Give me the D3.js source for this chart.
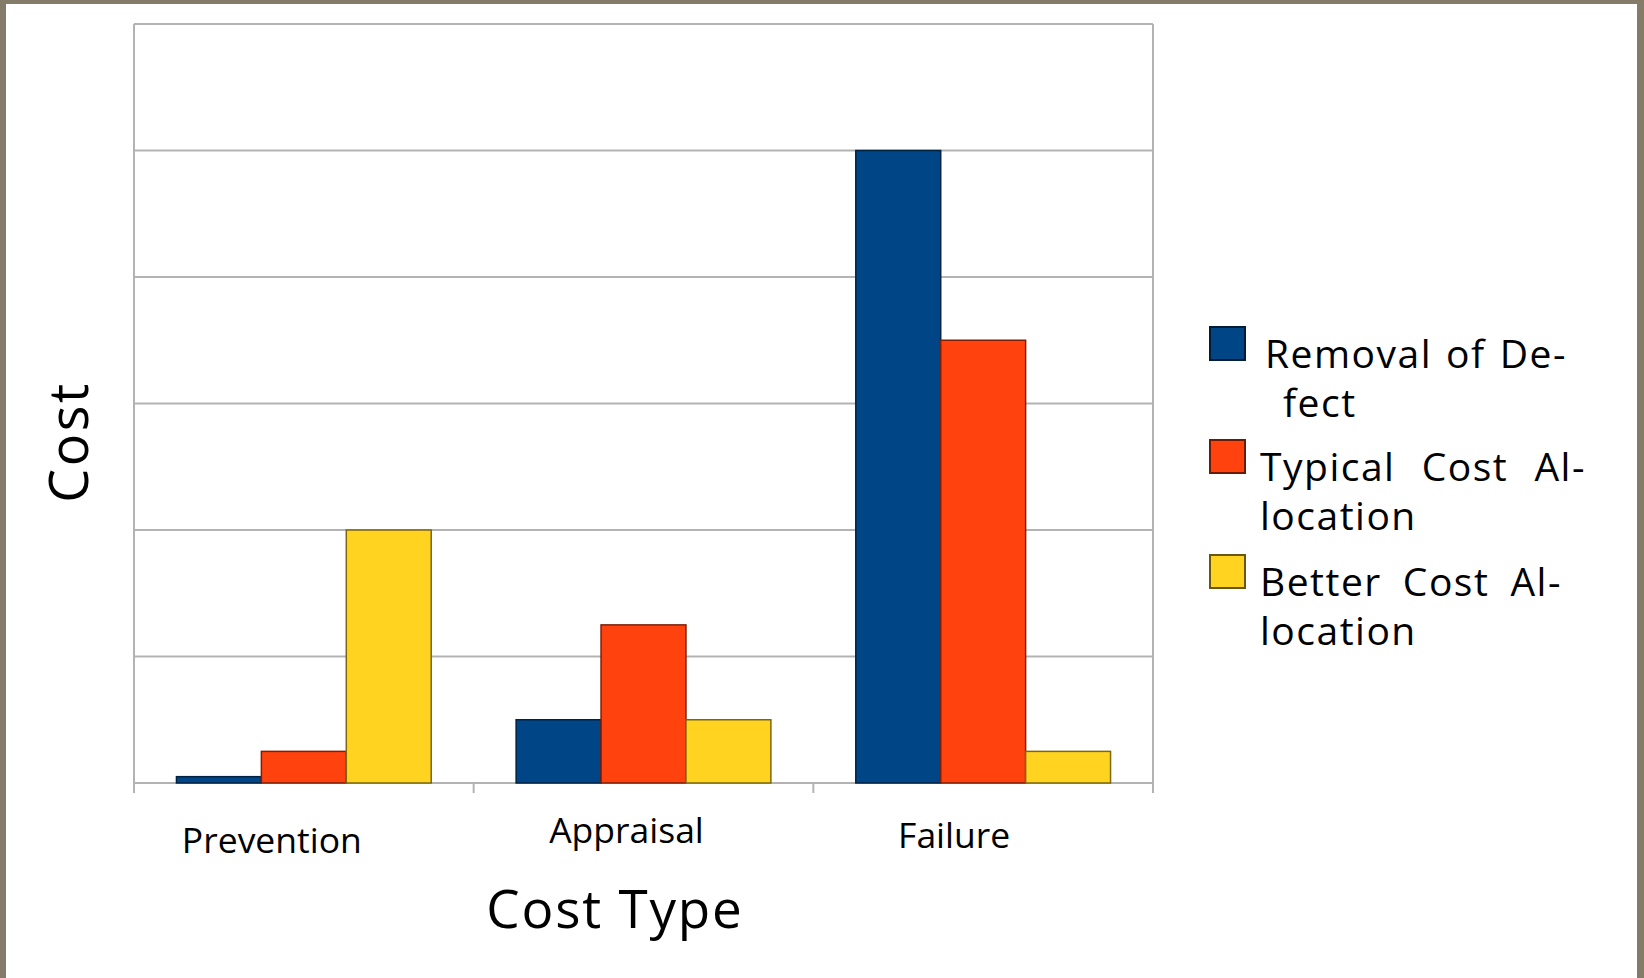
<!DOCTYPE html>
<html>
<head>
<meta charset="utf-8">
<script src="https://cdn.jsdelivr.net/npm/d3@7"></script>
<style>
  html, body { margin: 0; padding: 0; background: #ffffff; }
  svg { display: block; }
  text { font-family: "Open Sans", "Liberation Sans", sans-serif; fill: #000; }
</style>
</head>
<body>
<script>
// Cost of quality: three allocation profiles across the three cost types
const categories = ["Prevention", "Appraisal", "Failure"];
const seriesNames = ["Removal of Defect", "Typical Cost Allocation", "Better Cost Allocation"];
const removalOfDefect = [0.05, 0.5, 5.0];
const typicalAllocation = [0.25, 1.25, 3.5];
const betterAllocation = [2.0, 0.5, 0.25];
const yTicks = [0, 1, 2, 3, 4, 5, 6];
// hyphenated legend lines as set in the chart
const legendLines = [["Removal of De-", "fect"], ["Typical Cost Al-", "location"], ["Better Cost Al-", "location"]];

const seriesValues = [removalOfDefect, typicalAllocation, betterAllocation];
const colors = ["#004586", "#ff420e", "#ffd320"];

const W = 1644, H = 978;
const svg = d3.select("body").append("svg").attr("width", W).attr("height", H);

// page frame
svg.append("rect").attr("x", 0).attr("y", 0).attr("width", W).attr("height", H).attr("fill", "#857b69");
svg.append("rect").attr("x", 6).attr("y", 4).attr("width", W - 6 - 7).attr("height", H - 4).attr("fill", "#ffffff");

const plot = { left: 134, right: 1153, top: 24, bottom: 783 };

const x0 = d3.scaleBand().domain(categories).range([plot.left, plot.right]).padding(0);
const bw = x0.bandwidth();
const x1 = d3.scaleBand().domain(seriesNames).range([bw * 0.125, bw * 0.875]).padding(0);
const y = d3.scaleLinear().domain([0, 6]).range([plot.bottom, plot.top]);

const grid = "#b3b3b3";

// horizontal grid lines
svg.append("g")
  .selectAll("line")
  .data(yTicks.filter(t => t > 0))
  .join("line")
  .attr("x1", plot.left).attr("x2", plot.right)
  .attr("y1", d => y(d)).attr("y2", d => y(d))
  .attr("stroke", grid).attr("stroke-width", 2);

// left and right frame of the plot area
[plot.left, plot.right].forEach(xx => {
  svg.append("line")
    .attr("x1", xx).attr("x2", xx)
    .attr("y1", plot.top).attr("y2", plot.bottom)
    .attr("stroke", grid).attr("stroke-width", 2);
});

// x axis with ticks on category boundaries
const boundaries = categories.map(c => x0(c)).concat([plot.right]);
svg.append("line")
  .attr("x1", plot.left).attr("x2", plot.right)
  .attr("y1", plot.bottom).attr("y2", plot.bottom)
  .attr("stroke", grid).attr("stroke-width", 2);
svg.append("g")
  .selectAll("line")
  .data(boundaries)
  .join("line")
  .attr("x1", d => d).attr("x2", d => d)
  .attr("y1", plot.bottom).attr("y2", plot.bottom + 10)
  .attr("stroke", grid).attr("stroke-width", 2);

// bars
const groups = svg.append("g")
  .selectAll("g")
  .data(categories)
  .join("g")
  .attr("transform", d => `translate(${x0(d)},0)`);

groups.selectAll("rect")
  .data((c, i) => seriesNames.map((s, k) => ({ s, k, v: seriesValues[k][i] })))
  .join("rect")
  .attr("x", d => x1(d.s))
  .attr("width", x1.bandwidth())
  .attr("y", d => y(d.v))
  .attr("height", d => y(0) - y(d.v))
  .attr("fill", d => colors[d.k])
  .attr("stroke", d => d3.color(colors[d.k]).darker(2))
  .attr("stroke-width", 1.5);

// category labels
const labelShift = [-32, -17, -29];
const labelBase = [853, 843, 848];
svg.append("g")
  .selectAll("text")
  .data(categories)
  .join("text")
  .attr("x", (d, i) => x0(d) + bw / 2 + labelShift[i])
  .attr("y", (d, i) => labelBase[i])
  .attr("text-anchor", "middle")
  .attr("font-size", 35.5)
  .text(d => d);

// axis titles
svg.append("text")
  .attr("x", 615).attr("y", 928)
  .attr("text-anchor", "middle")
  .attr("font-size", 53)
  .attr("letter-spacing", 1.8)
  .text("Cost Type");

svg.append("text")
  .attr("transform", "translate(88,442) rotate(-90)")
  .attr("text-anchor", "middle")
  .attr("font-size", 54)
  .attr("letter-spacing", 2.5)
  .text("Cost");

// legend
const legendTop = [327, 440, 555];
const legendTextX = [[1265, 1283], [1260, 1260], [1260, 1260]];
const legendWidth = [302, 326, 302];
const leg = svg.append("g");
seriesNames.forEach((s, k) => {
  leg.append("rect")
    .attr("x", 1210).attr("y", legendTop[k])
    .attr("width", 35).attr("height", 33)
    .attr("fill", colors[k])
    .attr("stroke", d3.color(colors[k]).darker(2.5))
    .attr("stroke-width", 2);
  legendLines[k].forEach((line, j) => {
    const t = leg.append("text")
      .attr("x", legendTextX[k][j])
      .attr("y", legendTop[k] + 41 + j * 49)
      .attr("font-size", 39)
      .attr("letter-spacing", 1.5)
      .text(line);
    // justify the first (hyphenated) line by widening word gaps
    if (j === 0) {
      const gaps = line.split(" ").length - 1;
      const natural = t.node().getComputedTextLength();
      const extra = (legendWidth[k] - natural) / gaps;
      if (gaps > 0 && extra > 0) t.attr("word-spacing", extra);
    }
  });
});
</script>
</body>
</html>
